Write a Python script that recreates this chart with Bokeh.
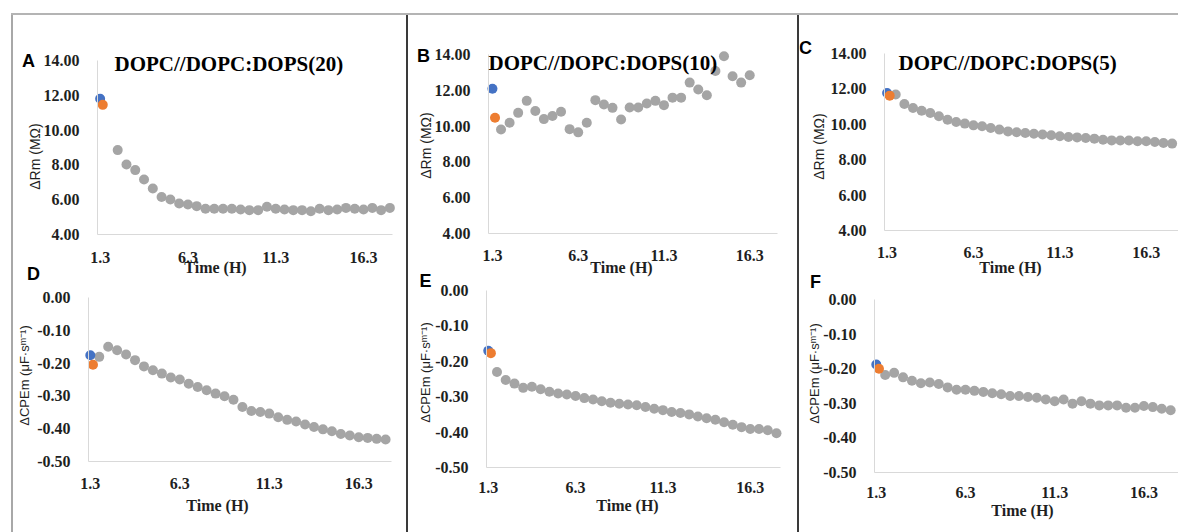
from math import pi
from bokeh.plotting import figure
from bokeh.models import (Range1d, FixedTicker, PrintfTickFormatter, Label, Div, Spacer,
                          LinearAxis)
from bokeh.layouts import row, column
from bokeh.embed import file_html
from bokeh.resources import INLINE

# ---------------- data ----------------
x_ticks = [1.3, 6.3, 11.3, 16.3]
rm_ticks = [4, 6, 8, 10, 12, 14]
cpe_ticks = [0.0, -0.1, -0.2, -0.3, -0.4, -0.5]

titles = ["DOPC//DOPC:DOPS(20)", "DOPC//DOPC:DOPS(10)", "DOPC//DOPC:DOPS(5)"]
panel_letters = ["A", "B", "C", "D", "E", "F"]
rm_label = "ΔRm (MΩ)"
cpe_label = "ΔCPEm (μF·sᵐ⁻¹)"
time_label = "Time (H)"

t_blue = [1.3]
t_orange = [1.45]

t_grey_a = [2.3, 2.8, 3.3, 3.8, 4.3, 4.8, 5.3, 5.8, 6.3, 6.8, 7.3, 7.8, 8.3, 8.8, 9.3, 9.8,
            10.3, 10.8, 11.3, 11.8, 12.3, 12.8, 13.3, 13.8, 14.3, 14.8, 15.3, 15.8, 16.3, 16.8,
            17.3, 17.8]
t_grey_b = [1.8, 2.3, 2.8, 3.3, 3.8, 4.3, 4.8, 5.3, 5.8, 6.3, 6.8, 7.3, 7.8, 8.3, 8.8, 9.3,
            9.8, 10.3, 10.8, 11.3, 11.8, 12.3, 12.8, 13.3, 13.8, 14.3, 14.8, 15.3, 15.8, 16.3]
t_grey = [1.8, 2.3, 2.8, 3.3, 3.8, 4.3, 4.8, 5.3, 5.8, 6.3, 6.8, 7.3, 7.8, 8.3, 8.8, 9.3,
          9.8, 10.3, 10.8, 11.3, 11.8, 12.3, 12.8, 13.3, 13.8, 14.3, 14.8, 15.3, 15.8, 16.3,
          16.8, 17.3, 17.8]

a_blue = [11.80]
a_orange = [11.45]
a_grey = [8.85, 8.02, 7.70, 7.16, 6.64, 6.16, 6.01, 5.78, 5.72, 5.63, 5.48, 5.48, 5.48, 5.48,
          5.44, 5.40, 5.40, 5.59, 5.48, 5.44, 5.40, 5.40, 5.34, 5.48, 5.40, 5.44, 5.53, 5.48,
          5.44, 5.53, 5.40, 5.53]

b_blue = [12.09]
b_orange = [10.47]
b_grey = [9.81, 10.19, 10.74, 11.41, 10.84, 10.39, 10.56, 10.80, 9.83, 9.65, 10.19, 11.45,
          11.21, 11.02, 10.37, 11.04, 11.04, 11.26, 11.41, 11.17, 11.59, 11.59, 12.43, 12.04,
          11.72, 13.08, 13.90, 12.78, 12.43, 12.84]

c_blue = [11.77]
c_orange = [11.62]
c_grey = [11.68, 11.15, 10.92, 10.77, 10.64, 10.45, 10.26, 10.13, 10.04, 9.94, 9.89, 9.79,
          9.70, 9.60, 9.55, 9.51, 9.47, 9.42, 9.38, 9.32, 9.28, 9.26, 9.23, 9.19, 9.13, 9.09,
          9.08, 9.08, 9.04, 9.04, 9.00, 8.94, 8.91]

d_blue = [-0.176]
d_orange = [-0.205]
d_grey = [-0.181, -0.150, -0.161, -0.174, -0.191, -0.210, -0.222, -0.232, -0.244, -0.250,
          -0.263, -0.273, -0.283, -0.293, -0.301, -0.312, -0.334, -0.346, -0.349, -0.354,
          -0.365, -0.373, -0.378, -0.387, -0.395, -0.402, -0.408, -0.416, -0.421, -0.426,
          -0.428, -0.431, -0.433]

e_blue = [-0.170]
e_orange = [-0.177]
e_grey = [-0.230, -0.253, -0.263, -0.275, -0.272, -0.279, -0.286, -0.291, -0.294, -0.298,
          -0.304, -0.308, -0.313, -0.317, -0.320, -0.322, -0.324, -0.329, -0.334, -0.338,
          -0.343, -0.346, -0.350, -0.356, -0.361, -0.365, -0.372, -0.379, -0.386, -0.391,
          -0.391, -0.395, -0.403]

f_blue = [-0.188]
f_orange = [-0.200]
f_grey = [-0.218, -0.212, -0.225, -0.235, -0.242, -0.240, -0.244, -0.254, -0.261, -0.261,
          -0.264, -0.267, -0.271, -0.274, -0.279, -0.279, -0.282, -0.284, -0.289, -0.294,
          -0.289, -0.301, -0.294, -0.301, -0.306, -0.306, -0.306, -0.313, -0.313, -0.308,
          -0.311, -0.316, -0.320]

# ---------------- styling / layout ----------------
BLUE = "#4472C4"
ORANGE = "#ED7D31"
GREY = "#A5A5A5"
TXT = "#1f1f1f"
SERIF = "Liberation Serif"
SANS = "Liberation Sans"

# geometry in page pixels: each column is one canvas holding two panels
columns_spec = [
    dict(fig=(13, 15, 393, 517),
         top=dict(frame=(97, 60, 392, 234), xr=(1.15, 17.95), yr=(4, 14),
                  tg=t_grey_a, g=a_grey, b=a_blue, o=a_orange, xstand=11),
         bot=dict(frame=(88, 297, 391, 461), xr=(1.2, 18.13), yr=(-0.5, 0),
                  tg=t_grey, g=d_grey, b=d_blue, o=d_orange, xstand=10),
         letters=[(0, 28, 60), (3, 33, 273)], title=(114, 63, 0),
         xlabs=[(215, 267), (217, 505)], ylabs=[(34, 156, "rm"), (24, 375, "cpe")]),
    dict(fig=(408, 15, 389, 517),
         top=dict(frame=(488, 54, 777, 233), xr=(1.07, 17.92), yr=(4, 14),
                  tg=t_grey_b, g=b_grey, b=b_blue, o=b_orange, xstand=10),
         bot=dict(frame=(486, 290, 780, 467), xr=(1.2, 18.03), yr=(-0.5, 0),
                  tg=t_grey, g=e_grey, b=e_blue, o=e_orange, xstand=8),
         letters=[(1, 423, 55), (4, 425, 280)], title=(488, 62, 1),
         xlabs=[(621, 267), (627, 505)], ylabs=[(425, 145, "rm"), (425, 372, "cpe")]),
    dict(fig=(799, 15, 379, 517),
         top=dict(frame=(884, 53, 1178, 230), xr=(1.15, 18.17), yr=(4, 14),
                  tg=t_grey, g=c_grey, b=c_blue, o=c_orange, xstand=10),
         bot=dict(frame=(874, 299, 1178, 472), xr=(1.2, 18.24), yr=(-0.5, 0),
                  tg=t_grey, g=f_grey, b=f_blue, o=f_orange, xstand=8),
         letters=[(2, 805, 47), (5, 815, 281)], title=(898, 62, 2),
         xlabs=[(1010, 267), (1022, 510)], ylabs=[(818, 146, "rm"), (814, 373, "cpe")]),
]


def mapper(panel):
    l, t, r, b = panel["frame"]
    x0, x1 = panel["xr"]
    y0, y1 = panel["yr"]

    def dx(px):
        return x0 + (px - l) / (r - l) * (x1 - x0)

    def dy(py):
        return y1 - (py - t) / (b - t) * (y1 - y0)

    return dx, dy


def style_axis(ax, stand, fmt, ticks, loc, bounds):
    ax.ticker = FixedTicker(ticks=ticks)
    ax.formatter = PrintfTickFormatter(format=fmt)
    ax.fixed_location = loc
    ax.bounds = bounds
    ax.axis_line_color = "#d9d9d9"
    ax.axis_line_width = 1
    ax.major_tick_line_color = None
    ax.minor_tick_line_color = None
    ax.major_label_text_font = SERIF
    ax.major_label_text_font_style = "bold"
    ax.major_label_text_font_size = "16px"
    ax.major_label_text_color = TXT
    ax.major_label_standoff = stand


def make_column(spec):
    fx, fy, fw, fh = spec["fig"]
    top, bot = spec["top"], spec["bot"]
    tdx, tdy = mapper(top)
    bdx, bdy = mapper(bot)

    p = figure(width=fw, height=fh, title=None,
               x_range=Range1d(tdx(fx), tdx(fx + fw)), y_range=Range1d(tdy(fy + fh), tdy(fy)),
               output_backend="svg", toolbar_location=None,
               min_border_left=0, min_border_right=0, min_border_top=0, min_border_bottom=0,
               background_fill_color="white", border_fill_color="white",
               outline_line_color=None)
    p.extra_x_ranges = {"t2": Range1d(bdx(fx), bdx(fx + fw))}
    p.extra_y_ranges = {"cpe": Range1d(bdy(fy + fh), bdy(fy))}
    p.xgrid.visible = False
    p.ygrid.visible = False

    # top panel axes (default ranges)
    style_axis(p.xaxis[0], top["xstand"], "%.1f", x_ticks, top["yr"][0], top["xr"])
    style_axis(p.yaxis[0], 12, "%.2f", rm_ticks, top["xr"][0], top["yr"])

    # bottom panel axes (extra ranges)
    bx = LinearAxis(x_range_name="t2", y_range_name="cpe")
    by = LinearAxis(x_range_name="t2", y_range_name="cpe")
    style_axis(bx, bot["xstand"], "%.1f", x_ticks, bot["yr"][0], bot["xr"])
    style_axis(by, 12, "%.2f", cpe_ticks, bot["xr"][0], bot["yr"])
    p.add_layout(bx, "below")
    p.add_layout(by, "left")

    # marks
    p.scatter(top["tg"], top["g"], size=10, color=GREY, line_color=None)
    p.scatter(t_blue, top["b"], size=10, color=BLUE, line_color=None)
    p.scatter(t_orange, top["o"], size=10, color=ORANGE, line_color=None)
    kw = dict(x_range_name="t2", y_range_name="cpe")
    p.scatter(bot["tg"], bot["g"], size=10, color=GREY, line_color=None, **kw)
    p.scatter(t_blue, bot["b"], size=10, color=BLUE, line_color=None, **kw)
    p.scatter(t_orange, bot["o"], size=10, color=ORANGE, line_color=None, **kw)

    # texts (positions in page pixels converted to the canvas' default data coords)
    for i, lx, ly in spec["letters"]:
        p.add_layout(Label(x=tdx(lx), y=tdy(ly), text=panel_letters[i], text_font=SANS,
                           text_font_style="bold", text_font_size="18px",
                           text_color="#000000", text_align="center",
                           text_baseline="middle"))
    tx, ty, ti = spec["title"]
    p.add_layout(Label(x=tdx(tx), y=tdy(ty), text=titles[ti], text_font=SERIF,
                       text_font_style="bold", text_font_size="21px", text_color="#000000",
                       text_align="left", text_baseline="middle"))
    for xx, xy in spec["xlabs"]:
        p.add_layout(Label(x=tdx(xx), y=tdy(xy), text=time_label, text_font=SERIF,
                           text_font_style="bold", text_font_size="16px", text_color=TXT,
                           text_align="center", text_baseline="middle"))
    for yx, yy, kind in spec["ylabs"]:
        p.add_layout(Label(x=tdx(yx), y=tdy(yy), text=rm_label if kind == "rm" else cpe_label,
                           text_font=SANS, text_font_size="14px" if kind == "rm" else "13px",
                           text_color=TXT, angle=pi / 2, text_align="center",
                           text_baseline="middle"))
    return p


figs = [make_column(s) for s in columns_spec]

Z = (0, 0, 0, 0)
top_line = row(Spacer(width=11, height=2, margin=Z),
               Div(width=1167, height=2, margin=Z, styles={"background-color": "#b4b4b4"}))
body = row(
    Spacer(width=11, height=517, margin=Z),
    Div(width=2, height=517, margin=Z, styles={"background-color": "#a8a8a8"}),
    figs[0],
    Div(width=2, height=517, margin=Z, styles={"background-color": "#3a3a3a"}),
    figs[1],
    Div(width=2, height=517, margin=Z, styles={"background-color": "#3a3a3a"}),
    figs[2],
)
layout = column(Spacer(width=1178, height=13, margin=Z), top_line, body)

open("out.html", "w").write(file_html(layout, INLINE))
